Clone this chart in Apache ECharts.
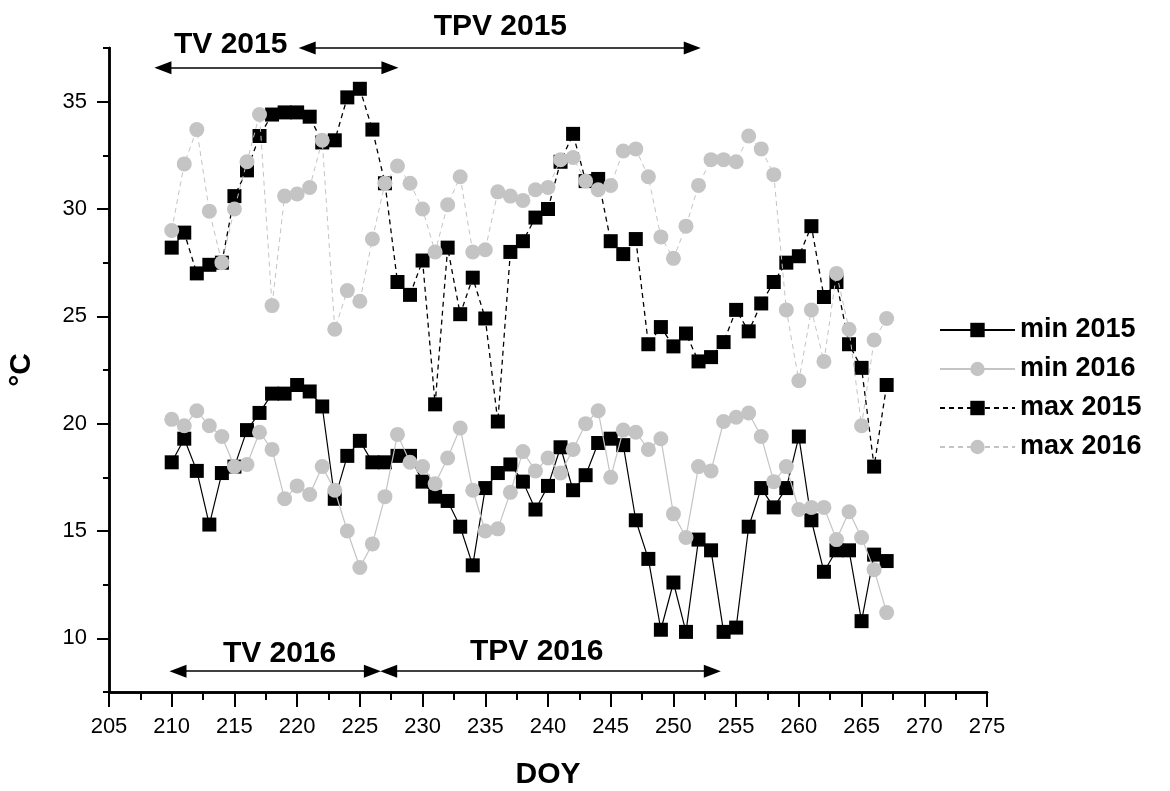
<!DOCTYPE html>
<html>
<head>
<meta charset="utf-8">
<script src="https://cdn.jsdelivr.net/npm/echarts@6/dist/echarts.min.js"></script>
<style>
  html, body { margin: 0; padding: 0; background: #fff; }
  #chart { width: 1170px; height: 791px; }
</style>
</head>
<body>
<div id="chart"></div>
<script>
// day of year
var doy = [210, 211, 212, 213, 214, 215, 216, 217, 218, 219, 220, 221, 222, 223, 224, 225, 226, 227, 228, 229,
  230, 231, 232, 233, 234, 235, 236, 237, 238, 239, 240, 241, 242, 243, 244, 245, 246, 247, 248, 249,
  250, 251, 252, 253, 254, 255, 256, 257, 258, 259, 260, 261, 262, 263, 264, 265, 266, 267];

var min2015 = [18.2, 19.3, 17.8, 15.3, 17.7, 18.0, 19.7, 20.5, 21.4, 21.4, 21.8, 21.5, 20.8, 16.5, 18.5, 19.2, 18.2, 18.2, 18.5, 18.5,
  17.3, 16.6, 16.4, 15.2, 13.4, 17.0, 17.7, 18.1, 17.3, 16.0, 17.1, 18.9, 16.9, 17.6, 19.1, 19.3, 19.0, 15.5, 13.7, 10.4,
  12.6, 10.3, 14.6, 14.1, 10.3, 10.5, 15.2, 17.0, 16.1, 17.0, 19.4, 15.5, 13.1, 14.1, 14.1, 10.8, 13.9, 13.6];

var min2016 = [20.2, 19.9, 20.6, 19.9, 19.4, 18.0, 18.1, 19.6, 18.8, 16.5, 17.1, 16.7, 18.0, 16.9, 15.0, 13.3, 14.4, 16.6, 19.5, 18.2,
  18.0, 17.2, 18.4, 19.8, 16.9, 15.0, 15.1, 16.8, 18.7, 17.8, 18.4, 17.7, 18.8, 20.0, 20.6, 17.5, 19.7, 19.6, 18.8, 19.3,
  15.8, 14.7, 18.0, 17.8, 20.1, 20.3, 20.5, 19.4, 17.3, 18.0, 16.0, 16.1, 16.1, 14.6, 15.9, 14.7, 13.2, 11.2];

var max2015 = [28.2, 28.9, 27.0, 27.4, 27.5, 30.6, 31.8, 33.4, 34.4, 34.5, 34.5, 34.3, 33.1, 33.2, 35.2, 35.6, 33.7, 31.2, 26.6, 26.0,
  27.6, 20.9, 28.2, 25.1, 26.8, 24.9, 20.1, 28.0, 28.5, 29.6, 30.0, 32.2, 33.5, 31.3, 31.4, 28.5, 27.9, 28.6, 23.7, 24.5,
  23.6, 24.2, 22.9, 23.1, 23.8, 25.3, 24.3, 25.6, 26.6, 27.5, 27.8, 29.2, 25.9, 26.6, 23.7, 22.6, 18.0, 21.8];

var max2016 = [29.0, 32.1, 33.7, 29.9, 27.5, 30.0, 32.2, 34.4, 25.5, 30.6, 30.7, 31.0, 33.2, 24.4, 26.2, 25.7, 28.6, 31.2, 32.0, 31.2,
  30.0, 28.0, 30.2, 31.5, 28.0, 28.1, 30.8, 30.6, 30.4, 30.9, 31.0, 32.3, 32.4, 31.3, 30.9, 31.1, 32.7, 32.8, 31.5, 28.7,
  27.7, 29.2, 31.1, 32.3, 32.3, 32.2, 33.4, 32.8, 31.6, 25.3, 22.0, 25.3, 22.9, 27.0, 24.4, 19.9, 23.9, 24.9];

var yLabels = [10, 15, 20, 25, 30, 35];

// period arrows [label, start doy, end doy, level in °C]
var periods = [
  ['TV 2015', 209.3, 227.4, 36.58],
  ['TPV 2015', 220.8, 251.5, 37.5],
  ['TV 2016', 210.5, 226.0, 8.47],
  ['TPV 2016', 227.3, 253.1, 8.47]
];
// text anchor for each period label [doy, °C]
var periodText = [[214.7, 37.65], [236.2, 38.5], [218.6, 9.29], [239.1, 9.38]];

var FONT = 'Liberation Sans, Arial, sans-serif';
var GREY = '#c4c4c4';

function pairs(vals) {
  return doy.map(function (d, i) { return [d, vals[i]]; });
}

var chartDom = document.getElementById('chart');
var myChart = echarts.init(chartDom, null, { renderer: 'canvas' });

var arrowLines = periods.map(function (p) {
  return [{ coord: [p[1], p[3]] }, { coord: [p[2], p[3]] }];
});

var option = {
  animation: false,
  backgroundColor: '#fff',
  textStyle: { fontFamily: FONT },
  grid: { left: 109, right: 183, top: 48, bottom: 99, containLabel: false, outerBoundsMode: 'none' },
  legend: {
    orient: 'vertical',
    left: 934,
    top: 311,
    itemWidth: 75,
    itemHeight: 18,
    itemGap: 11,
    data: ['min 2015', 'min 2016', 'max 2015', 'max 2016'],
    textStyle: { fontSize: 27, fontWeight: 'bold', color: '#000', fontFamily: FONT, lineHeight: 28 }
  },
  xAxis: [
    {
      type: 'value', min: 205, max: 275, interval: 2.5, position: 'bottom',
      axisLine: { lineStyle: { color: '#000', width: 2.5 } },
      axisTick: { show: true, length: 8, lineStyle: { color: '#000', width: 2 } },
      axisLabel: { show: false },
      splitLine: { show: false }
    },
    {
      type: 'value', min: 205, max: 275, interval: 5, position: 'bottom',
      axisLine: { show: true, lineStyle: { color: '#000', width: 2.5 } },
      axisTick: { show: true, length: 15, lineStyle: { color: '#000', width: 2 } },
      axisLabel: { fontSize: 22, color: '#000', margin: 24, fontFamily: FONT },
      splitLine: { show: false },
      name: 'DOY', nameLocation: 'middle', nameGap: 68,
      nameTextStyle: { fontSize: 30, fontWeight: 'bold', color: '#000', fontFamily: FONT }
    }
  ],
  yAxis: [
    {
      type: 'value', min: 7.5, max: 37.5, interval: 2.5, position: 'left',
      axisLine: { show: true, lineStyle: { color: '#000', width: 2.5 } },
      axisTick: { show: true, length: 6, lineStyle: { color: '#000', width: 2 } },
      axisLabel: { show: false },
      splitLine: { show: false }
    },
    {
      type: 'value', min: 7.5, max: 37.5, interval: 2.5, position: 'left',
      axisLine: { show: true, lineStyle: { color: '#000', width: 2.5 } },
      axisTick: { show: true, length: 12, customValues: yLabels, lineStyle: { color: '#000', width: 2 } },
      axisLabel: {
        fontSize: 22, color: '#000', margin: 22, fontFamily: FONT, customValues: yLabels,
        formatter: function (v) { return v % 5 === 0 ? String(v) : ''; }
      },
      splitLine: { show: false },
      name: '°C', nameLocation: 'middle', nameGap: 72, nameRotate: 90,
      nameTextStyle: { fontSize: 30, fontWeight: 'bold', color: '#000', fontFamily: FONT }
    }
  ],
  series: [
    {
      name: 'min 2015', type: 'line', xAxisIndex: 0, yAxisIndex: 0,
      data: pairs(min2015),
      symbol: 'rect', symbolSize: 14,
      itemStyle: { color: '#000' },
      lineStyle: { color: '#000', width: 1.2 },
      z: 2,
      markLine: {
        silent: true,
        symbol: ['triangle', 'triangle'],
        symbolSize: [13, 17],
        label: { show: false },
        lineStyle: { color: '#000', width: 1.5, type: 'solid' },
        data: arrowLines
      }
    },
    {
      name: 'min 2016', type: 'line', xAxisIndex: 0, yAxisIndex: 0,
      data: pairs(min2016),
      symbol: 'circle', symbolSize: 15,
      itemStyle: { color: GREY },
      lineStyle: { color: GREY, width: 1.2 },
      z: 3
    },
    {
      name: 'max 2015', type: 'line', xAxisIndex: 0, yAxisIndex: 0,
      data: pairs(max2015),
      symbol: 'rect', symbolSize: 14,
      itemStyle: { color: '#000' },
      lineStyle: { color: '#000', width: 1.3, type: [5, 4] },
      z: 4
    },
    {
      name: 'max 2016', type: 'line', xAxisIndex: 0, yAxisIndex: 0,
      data: pairs(max2016),
      symbol: 'circle', symbolSize: 15,
      itemStyle: { color: GREY },
      lineStyle: { color: GREY, width: 1, type: [5, 4] },
      z: 5
    }
  ]
};

myChart.setOption(option);

// period labels placed through the chart's own scales
var texts = periods.map(function (p, i) {
  var pt = myChart.convertToPixel({ seriesIndex: 0 }, periodText[i]);
  return {
    type: 'text',
    x: pt[0], y: pt[1],
    style: {
      text: p[0], fontSize: 30, fontWeight: 'bold', fontFamily: FONT,
      fill: '#000', align: 'center', verticalAlign: 'middle'
    },
    z: 100
  };
});
myChart.setOption({ graphic: texts });
</script>
</body>
</html>
